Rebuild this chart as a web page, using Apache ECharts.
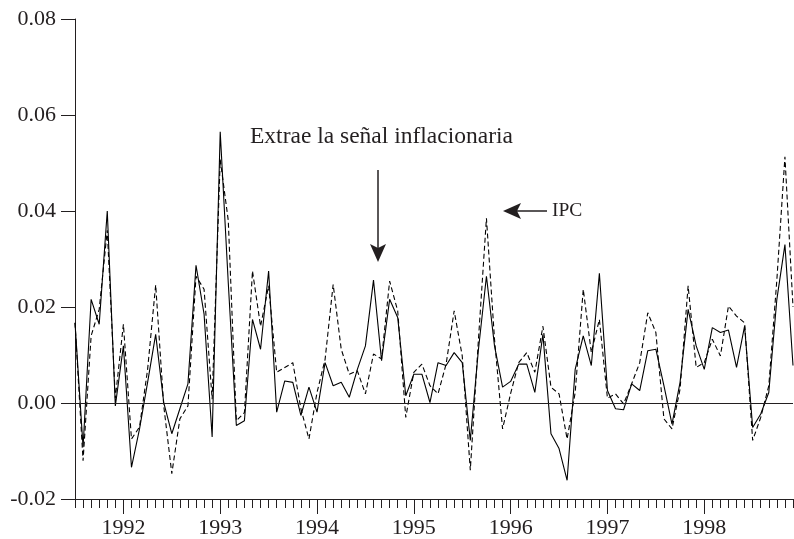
<!DOCTYPE html>
<html>
<head>
<meta charset="utf-8">
<script src="https://cdn.jsdelivr.net/npm/echarts@6/dist/echarts.min.js"></script>
<style>
  html, body { margin: 0; padding: 0; background: #ffffff; }
  #chart { width: 794px; height: 539px; }
</style>
</head>
<body>
<div id="chart"></div>
<script>
// Monthly observations, July 1991 to December 1998
const months = [
  '1991-07','1991-08','1991-09','1991-10','1991-11','1991-12',
  '1992-01','1992-02','1992-03','1992-04','1992-05','1992-06','1992-07','1992-08','1992-09','1992-10','1992-11','1992-12',
  '1993-01','1993-02','1993-03','1993-04','1993-05','1993-06','1993-07','1993-08','1993-09','1993-10','1993-11','1993-12',
  '1994-01','1994-02','1994-03','1994-04','1994-05','1994-06','1994-07','1994-08','1994-09','1994-10','1994-11','1994-12',
  '1995-01','1995-02','1995-03','1995-04','1995-05','1995-06','1995-07','1995-08','1995-09','1995-10','1995-11','1995-12',
  '1996-01','1996-02','1996-03','1996-04','1996-05','1996-06','1996-07','1996-08','1996-09','1996-10','1996-11','1996-12',
  '1997-01','1997-02','1997-03','1997-04','1997-05','1997-06','1997-07','1997-08','1997-09','1997-10','1997-11','1997-12',
  '1998-01','1998-02','1998-03','1998-04','1998-05','1998-06','1998-07','1998-08','1998-09','1998-10','1998-11','1998-12'
];

// Extracted inflation signal (solid line)
const signal = [
  0.0167, -0.0092, 0.0216, 0.0164, 0.0400, -0.0006,
  0.0119, -0.0134, -0.0054, 0.0043, 0.0143, 0.0001, -0.0064, -0.0012, 0.0040, 0.0287, 0.0185, -0.0071,
  0.0565, 0.0250, -0.0047, -0.0037, 0.0174, 0.0112, 0.0275, -0.0019, 0.0046, 0.0043, -0.0026, 0.0033,
  -0.0019, 0.0084, 0.0036, 0.0043, 0.0012, 0.0070, 0.0119, 0.0256, 0.0088, 0.0216, 0.0178, 0.0015,
  0.0060, 0.0060, 0.0001, 0.0084, 0.0078, 0.0105, 0.0084, -0.0078, 0.0110, 0.0264, 0.0119, 0.0033,
  0.0045, 0.0081, 0.0081, 0.0022, 0.0143, -0.0064, -0.0095, -0.0161, 0.0070, 0.0140, 0.0078, 0.0270,
  0.0026, -0.0012, -0.0014, 0.0040, 0.0026, 0.0109, 0.0112, 0.0036, -0.0044, 0.0043, 0.0195, 0.0119,
  0.0070, 0.0157, 0.0147, 0.0152, 0.0074, 0.0160, -0.0051, -0.0023, 0.0022, 0.0216, 0.0330, 0.0078
];

// IPC monthly change (dashed line)
const ipc = [
  0.0167, -0.0120, 0.0140, 0.0195, 0.0360, 0.0010,
  0.0164, -0.0075, -0.0050, 0.0070, 0.0246, -0.0006, -0.0147, -0.0033, -0.0006, 0.0264, 0.0237, 0.0008,
  0.0507, 0.0380, -0.0037, -0.0020, 0.0275, 0.0160, 0.0244, 0.0064, 0.0074, 0.0084, -0.0012, -0.0075,
  0.0022, 0.0091, 0.0247, 0.0112, 0.0060, 0.0067, 0.0019, 0.0102, 0.0092, 0.0254, 0.0192, -0.0030,
  0.0064, 0.0081, 0.0036, 0.0019, 0.0081, 0.0192, 0.0098, -0.0140, 0.0130, 0.0385, 0.0133, -0.0054,
  0.0020, 0.0084, 0.0105, 0.0064, 0.0160, 0.0033, 0.0019, -0.0075, 0.0022, 0.0237, 0.0105, 0.0174,
  0.0010, 0.0019, -0.0002, 0.0040, 0.0084, 0.0188, 0.0147, -0.0033, -0.0054, 0.0029, 0.0244, 0.0074,
  0.0084, 0.0133, 0.0098, 0.0202, 0.0181, 0.0167, -0.0078, -0.0030, 0.0036, 0.0257, 0.0513, 0.0200
];

// Value axis ticks
const yTicks = { min: -0.02, max: 0.08, step: 0.02 };

const ink = '#231f20';
const serif = '"Liberation Serif", "Times New Roman", serif';
const isJanuary = (idx, val) => String(val).slice(5) === '01';

const chart = echarts.init(document.getElementById('chart'), null, { renderer: 'canvas' });

chart.setOption({
  animation: false,
  backgroundColor: '#ffffff',
  grid: { left: 75, right: 1, top: 19, bottom: 38, containLabel: false },
  xAxis: [
    {
      // monthly ticks
      type: 'category',
      data: months,
      boundaryGap: false,
      position: 'bottom',
      axisLine: { show: true, onZero: false, lineStyle: { color: ink, width: 1 } },
      axisTick: { show: true, interval: 0, length: 9, lineStyle: { color: ink, width: 1 } },
      axisLabel: { show: false },
      splitLine: { show: false }
    },
    {
      // yearly ticks with labels
      type: 'category',
      data: months,
      boundaryGap: false,
      position: 'bottom',
      axisLine: { show: false, onZero: false },
      axisTick: { show: true, interval: isJanuary, length: 15, lineStyle: { color: ink, width: 1 } },
      axisLabel: {
        show: true,
        interval: isJanuary,
        formatter: v => v.slice(0, 4),
        margin: 18,
        color: ink,
        fontFamily: serif,
        fontSize: 22
      },
      splitLine: { show: false }
    }
  ],
  yAxis: {
    type: 'value',
    min: yTicks.min,
    max: yTicks.max,
    interval: yTicks.step,
    axisLine: { show: true, onZero: false, lineStyle: { color: ink, width: 1 } },
    axisTick: { show: true, length: 14, lineStyle: { color: ink, width: 1 } },
    axisLabel: {
      margin: 19,
      color: ink,
      fontFamily: serif,
      fontSize: 22,
      formatter: v => v.toFixed(2)
    },
    splitLine: { show: false }
  },
  series: [
    {
      name: 'IPC',
      type: 'line',
      xAxisIndex: 0,
      data: ipc,
      symbol: 'none',
      lineStyle: { color: '#000000', width: 1.1, type: [5, 3] },
      z: 3
    },
    {
      name: 'Señal inflacionaria',
      type: 'line',
      xAxisIndex: 0,
      data: signal,
      symbol: 'none',
      lineStyle: { color: '#000000', width: 1.1 },
      z: 4,
      markLine: {
        silent: true,
        symbol: 'none',
        label: { show: false },
        lineStyle: { color: ink, width: 1, type: 'solid' },
        data: [{ yAxis: 0 }]
      }
    }
  ],
  graphic: [
    {
      type: 'text',
      left: 250, top: 125,
      style: { text: 'Extrae la señal inflacionaria', fill: ink, font: '23.5px ' + serif }
    },
    {
      type: 'line',
      shape: { x1: 378, y1: 170, x2: 378, y2: 250 },
      style: { stroke: ink, lineWidth: 1.5 }
    },
    {
      type: 'polygon',
      shape: { points: [[378, 262], [370, 244], [378, 248], [386, 244]] },
      style: { fill: ink }
    },
    {
      type: 'line',
      shape: { x1: 515, y1: 211, x2: 547, y2: 211 },
      style: { stroke: ink, lineWidth: 1.5 }
    },
    {
      type: 'polygon',
      shape: { points: [[503, 211], [521, 203], [517, 211], [521, 219]] },
      style: { fill: ink }
    },
    {
      type: 'text',
      left: 552, top: 201,
      style: { text: 'IPC', fill: ink, font: '19.5px ' + serif }
    }
  ]
});
</script>
</body>
</html>
